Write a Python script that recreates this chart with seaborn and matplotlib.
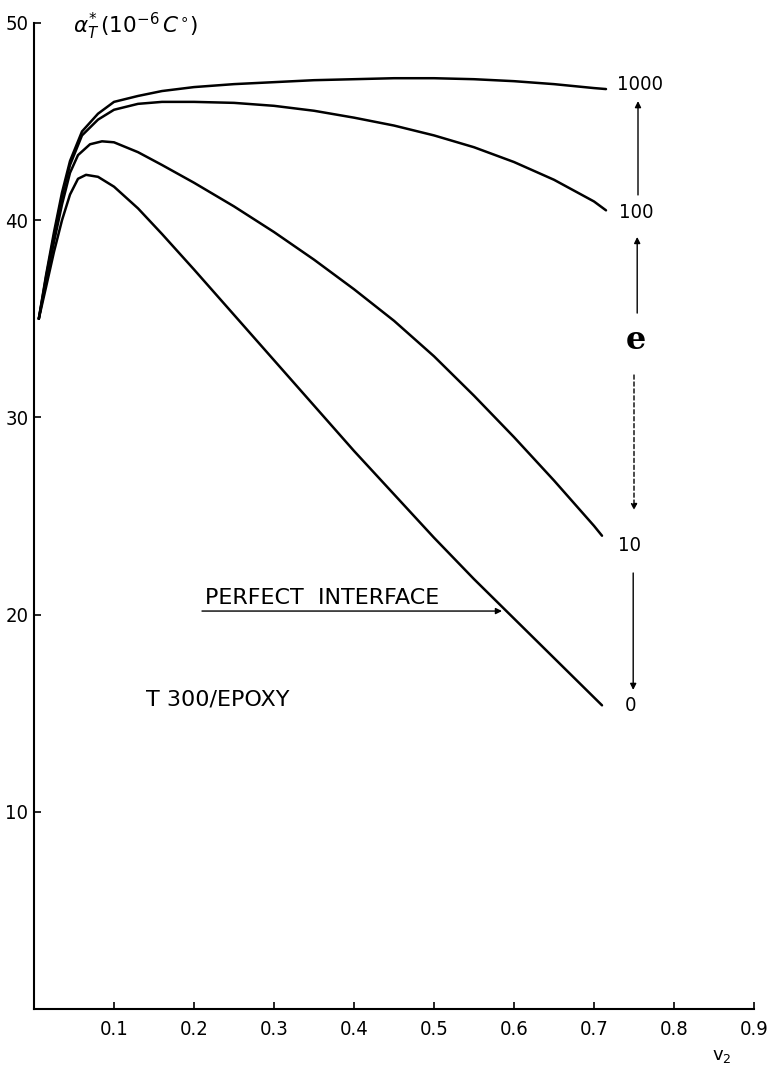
import matplotlib
matplotlib.use("Agg")
import matplotlib.pyplot as plt
import numpy as np
import pandas as pd
import seaborn as sns

# Fibre volume fraction v2 and effective transverse thermal expansion alpha*_T (10^-6 / C)
v2_upper = [0.006, 0.015, 0.025, 0.035, 0.045, 0.06, 0.08, 0.1, 0.13, 0.16, 0.2,
            0.25, 0.3, 0.35, 0.4, 0.45, 0.5, 0.55, 0.6, 0.65, 0.7, 0.715]
alpha_e1000 = [35.0, 37.2, 39.4, 41.4, 43.0, 44.5, 45.4, 46.0, 46.3, 46.55, 46.75,
               46.9, 47.0, 47.1, 47.15, 47.2, 47.2, 47.15, 47.05, 46.9, 46.7, 46.65]
alpha_e100 = [35.0, 37.1, 39.2, 41.2, 42.8, 44.3, 45.1, 45.6, 45.9, 46.0, 46.0,
              45.95, 45.8, 45.55, 45.2, 44.8, 44.3, 43.7, 42.95, 42.05, 40.95, 40.5]

v2_lower = [0.006, 0.015, 0.025, 0.035, 0.045, 0.055, 0.07, 0.085, 0.1, 0.13, 0.16, 0.2,
            0.25, 0.3, 0.35, 0.4, 0.45, 0.5, 0.55, 0.6, 0.65, 0.7, 0.71]
alpha_e10 = [35.0, 36.9, 38.9, 40.8, 42.4, 43.3, 43.85, 44.0, 43.95, 43.45, 42.8, 41.9,
             40.7, 39.4, 38.0, 36.5, 34.9, 33.1, 31.1, 29.0, 26.8, 24.5, 24.0]

v2_perfect = [0.006, 0.015, 0.025, 0.035, 0.045, 0.055, 0.065, 0.08, 0.1, 0.13, 0.16, 0.2,
              0.25, 0.3, 0.35, 0.4, 0.45, 0.5, 0.55, 0.6, 0.65, 0.7, 0.71]
alpha_e0 = [35.0, 36.6, 38.4, 40.0, 41.3, 42.1, 42.3, 42.2, 41.7, 40.6, 39.3, 37.5,
            35.2, 32.9, 30.6, 28.3, 26.1, 23.9, 21.8, 19.8, 17.8, 15.8, 15.4]

e_labels = ["1000", "100", "10", "0"]
x_ticks = [0.1, 0.2, 0.3, 0.4, 0.5, 0.6, 0.7, 0.8, 0.9]
y_ticks = [10, 20, 30, 40, 50]

frames = []
for lab, xs, ys in zip(e_labels,
                       [v2_upper, v2_upper, v2_lower, v2_perfect],
                       [alpha_e1000, alpha_e100, alpha_e10, alpha_e0]):
    frames.append(pd.DataFrame({"v2": xs, "alpha": ys, "e": lab}))
df = pd.concat(frames, ignore_index=True)

sns.set_style("ticks")
plt.rcParams["font.family"] = ["DejaVu Sans"]
plt.rcParams["text.color"] = "black"
plt.rcParams["axes.labelcolor"] = "black"

fig = plt.figure(figsize=(7.71, 10.72), dpi=100)
ax = fig.add_axes([34 / 771, 63 / 1072, 720 / 771, 986 / 1072])

sns.lineplot(data=df, x="v2", y="alpha", hue="e", units="e", estimator=None,
             sort=False, palette={k: "black" for k in e_labels}, legend=False,
             linewidth=1.8, ax=ax)

ax.set_xlim(0, 0.9)
ax.set_ylim(0, 50)
ax.set_xticks(x_ticks)
ax.set_xticklabels([f"{t:.1f}" for t in x_ticks])
ax.set_yticks(y_ticks)
ax.set_yticklabels([str(t) for t in y_ticks])
ax.set_xlabel("")
ax.set_ylabel("")
for s in ["top", "right"]:
    ax.spines[s].set_visible(False)
for s in ["left", "bottom"]:
    ax.spines[s].set_linewidth(1.5)
    ax.spines[s].set_color("black")
ax.tick_params(axis="both", direction="in", length=5, width=1.2, colors="black",
               labelsize=14.5)
ax.tick_params(axis="x", pad=8)
ax.tick_params(axis="y", pad=4)
for lbl in ax.get_xticklabels() + ax.get_yticklabels():
    lbl.set_fontstretch("condensed")

# axis titles
fig.text(73 / 771, 1 - 33 / 1072, r"$\alpha^{*}_{T}\,(10^{-6}\,C^{\circ})$",
         fontsize=15.5, ha="left", va="baseline", color="black")
fig.text(712 / 771, 1 - 1060 / 1072, r"$\mathregular{v_{2}}$", fontsize=13,
         ha="left", va="baseline", color="black")

# curve labels on the right
lab_kw = dict(fontsize=14.5, ha="center", va="center", fontstretch="condensed",
              color="black")
ax.text(0.7575, 46.86, "1000", **lab_kw)
ax.text(0.7525, 40.37, "100", **lab_kw)
ax.text(0.745, 23.48, "10", **lab_kw)
ax.text(0.746, 15.37, "0", **lab_kw)
ax.text(0.7525, 33.9, "e", fontsize=23, fontweight="bold", ha="center",
        va="center", family="DejaVu Serif", color="black")

arrow_kw = dict(arrowstyle="-|>", mutation_scale=9, lw=1.0, color="black",
                shrinkA=0, shrinkB=0)
ax.annotate("", xy=(0.755, 46.04), xytext=(0.755, 41.28), arrowprops=arrow_kw)
ax.annotate("", xy=(0.754, 39.15), xytext=(0.754, 35.29), arrowprops=arrow_kw)
ax.annotate("", xy=(0.75, 25.30), xytext=(0.75, 32.15),
            arrowprops=dict(arrow_kw, linestyle=(0, (3, 2))))
ax.annotate("", xy=(0.749, 16.18), xytext=(0.749, 22.11), arrowprops=arrow_kw)

# perfect interface pointer
ax.text(0.214, 20.55, "PERFECT  INTERFACE", fontsize=16, ha="left",
        va="baseline", color="black")
ax.annotate("", xy=(0.585, 20.18), xytext=(0.21, 20.18), arrowprops=arrow_kw)

ax.text(0.14, 15.7, "T 300/EPOXY", fontsize=16, ha="left", va="center",
        color="black")

fig.savefig("out.png", dpi=100)
